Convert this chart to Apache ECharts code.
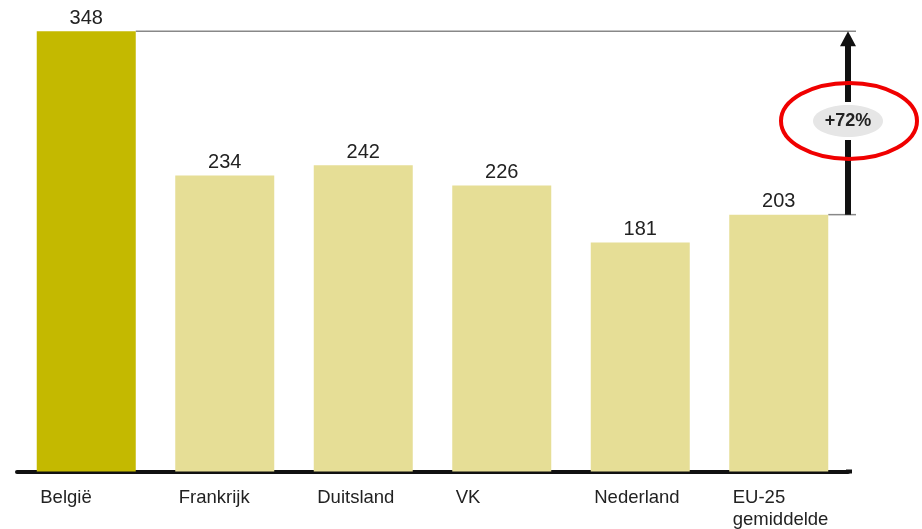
<!DOCTYPE html>
<html>
<head>
<meta charset="utf-8">
<script src="https://cdn.jsdelivr.net/npm/echarts@6/dist/echarts.min.js"></script>
<style>
  html, body { margin: 0; padding: 0; background: #fff; }
  #chart { width: 922px; height: 529px; }
</style>
</head>
<body>
<div id="chart"></div>
<script>
// data
const categories = ['België', 'Frankrijk', 'Duitsland', 'VK', 'Nederland', 'EU-25\ngemiddelde']
const values = [348, 234, 242, 226, 181, 203]
const barColors = ['#C4B900', '#E6DE96', '#E6DE96', '#E6DE96', '#E6DE96', '#E6DE96']
const diffLabel = '+72%'

const chart = echarts.init(document.getElementById('chart'))

const option = {
  animation: false,
  grid: { left: 17, right: 74, top: 16, bottom: 57 },
  xAxis: {
    type: 'category',
    data: categories,
    axisTick: { show: false },
    axisLine: { lineStyle: { color: '#111', width: 4 } },
    axisLabel: {
      margin: 15,
      interval: 0,
      formatter: (v) => v.split('\n').map((s) => '{a|' + s + '}').join('\n'),
      rich: {
        a: {
          width: 92,
          align: 'left',
          fontFamily: 'Liberation Sans, Arial',
          fontSize: 18.5,
          lineHeight: 22,
          color: '#222',
        },
      },
    },
  },
  yAxis: {
    type: 'value',
    min: 0,
    max: 360,
    show: false,
    splitLine: { show: false },
  },
  series: [
    {
      type: 'bar',
      barWidth: 99,
      data: values.map((v, i) => ({ value: v, itemStyle: { color: barColors[i] } })),
      label: {
        show: true,
        position: 'top',
        distance: 3,
        fontFamily: 'Liberation Sans, Arial',
        fontSize: 20,
        color: '#222',
      },
    },
  ],
}

chart.setOption(option)

// annotation: guide lines, arrow and the circled percentage
function drawAnnotation() {
  const yTop = chart.convertToPixel({ yAxisIndex: 0 }, values[0])
  const yBottom = chart.convertToPixel({ yAxisIndex: 0 }, values[values.length - 1])
  const x0 = chart.convertToPixel({ xAxisIndex: 0 }, categories[0])
  const x1 = chart.convertToPixel({ xAxisIndex: 0 }, categories[1])
  const xLast = chart.convertToPixel({ xAxisIndex: 0 }, categories[categories.length - 1])
  const band = x1 - x0
  const xArrow = xLast + band / 2
  const yMid = (yTop + yBottom) / 2
  const yAxisLine = chart.convertToPixel({ yAxisIndex: 0 }, 0)

  chart.setOption({
    graphic: [
      {
        // the baseline runs a little past the last band
        type: 'line',
        shape: { x1: xArrow - 2, y1: yAxisLine, x2: xArrow + 4, y2: yAxisLine },
        style: { stroke: '#111', lineWidth: 4 },
      },
      {
        type: 'line',
        shape: { x1: x0 + 49.5, y1: yTop, x2: xArrow + 8, y2: yTop },
        style: { stroke: '#888', lineWidth: 1.5 },
      },
      {
        type: 'line',
        shape: { x1: xLast + 49.5, y1: yBottom, x2: xArrow + 8, y2: yBottom },
        style: { stroke: '#888', lineWidth: 1.5 },
      },
      {
        type: 'line',
        shape: { x1: xArrow, y1: yBottom, x2: xArrow, y2: yTop + 12 },
        style: { stroke: '#111', lineWidth: 6 },
      },
      {
        type: 'polygon',
        shape: { points: [[xArrow, yTop], [xArrow - 8, yTop + 15], [xArrow + 8, yTop + 15]] },
        style: { fill: '#111' },
      },
      {
        type: 'ellipse',
        shape: { cx: xArrow, cy: yMid - 2, rx: 38, ry: 19 },
        style: { fill: '#fff' },
      },
      {
        type: 'ellipse',
        shape: { cx: xArrow, cy: yMid - 2, rx: 35, ry: 16 },
        style: { fill: '#E6E6E6' },
      },
      {
        type: 'text',
        x: xArrow,
        y: yMid - 2,
        style: {
          text: diffLabel,
          fontFamily: 'Liberation Sans, Arial',
          fontSize: 18,
          fontWeight: 'bold',
          fill: '#222',
          align: 'center',
          verticalAlign: 'middle',
        },
      },
      {
        type: 'ellipse',
        shape: { cx: xArrow + 1, cy: yMid - 2, rx: 68, ry: 38 },
        style: { fill: 'none', stroke: '#F00000', lineWidth: 4 },
      },
    ],
  })
}

drawAnnotation()
</script>
</body>
</html>
